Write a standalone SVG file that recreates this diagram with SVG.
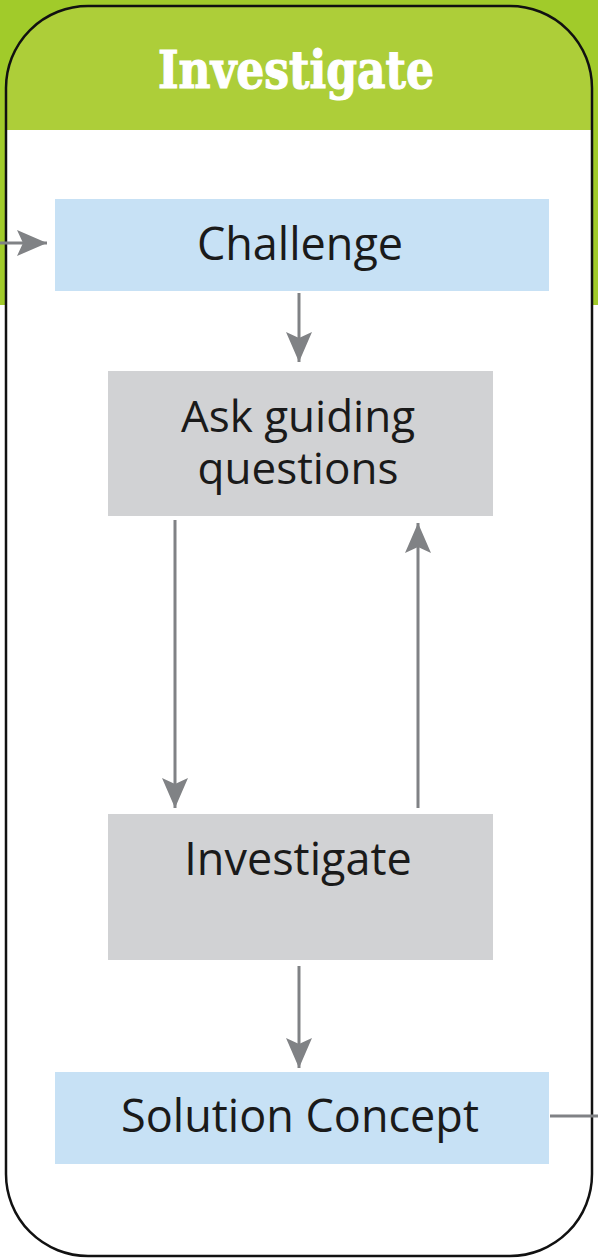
<svg xmlns="http://www.w3.org/2000/svg" width="598" height="1260" viewBox="0 0 598 1260">
<style>
.lbl{font-family:"Open Sans","Noto Sans","Liberation Sans",sans-serif;font-size:45px;font-weight:400;fill:#1a1a1a;text-anchor:middle}
.title{font-family:"DejaVu Serif","Liberation Serif",serif;font-weight:bold;font-size:52px;fill:#ffffff;stroke:#ffffff;stroke-width:1.2;text-anchor:middle}
.blue{fill:#c7e1f5}
.gray{fill:#d1d2d4}
.conn{stroke:#808285;stroke-width:3;fill:none}
</style>
<defs>
<marker id="ah" viewBox="0 0 30 26" refX="30" refY="13" markerWidth="30" markerHeight="26" markerUnits="userSpaceOnUse" orient="auto">
<path d="M0,0 L30,13 L0,26 L6,13 Z" fill="#808285"/>
</marker>
<clipPath id="frame"><rect x="6" y="6" width="586" height="1250" rx="82" ry="82"/></clipPath>
</defs>
<rect x="0" y="0" width="598" height="1260" fill="#ffffff"/>
<rect x="0" y="0" width="598" height="305" fill="#a1cb2a"/>
<g id="frame-group">
<rect x="6" y="6" width="586" height="1250" rx="82" ry="82" fill="#ffffff"/>
<rect x="0" y="0" width="598" height="130" fill="#adce39" clip-path="url(#frame)"/>
<rect x="6" y="6" width="586" height="1250" rx="82" ry="82" fill="none" stroke="#111111" stroke-width="2.5"/>
<text class="title" x="296" y="88" textLength="276" lengthAdjust="spacingAndGlyphs">Investigate</text>
</g>
<g id="connectors">
<line class="conn" x1="0" y1="243" x2="47" y2="243" marker-end="url(#ah)"/>
<line class="conn" x1="299" y1="293" x2="299" y2="362" marker-end="url(#ah)"/>
<line class="conn" x1="175" y1="520" x2="175" y2="808" marker-end="url(#ah)"/>
<line class="conn" x1="418" y1="808" x2="418" y2="523" marker-end="url(#ah)"/>
<line class="conn" x1="299" y1="966" x2="299" y2="1068" marker-end="url(#ah)"/>
<line class="conn" x1="550" y1="1116" x2="598" y2="1116"/>
</g>
<g id="challenge">
<rect class="blue" x="55" y="199" width="494" height="92"/>
<text class="lbl" x="300" y="260">Challenge</text>
</g>
<g id="ask">
<rect class="gray" x="108" y="371" width="385" height="145"/>
<text class="lbl" x="298" y="432" style="font-size:44px"><tspan x="298" y="432">Ask guiding</tspan><tspan x="298" y="484">questions</tspan></text>
</g>
<g id="investigate">
<rect class="gray" x="108" y="814" width="385" height="146"/>
<text class="lbl" x="298" y="875">Investigate</text>
</g>
<g id="solution">
<rect class="blue" x="55" y="1072" width="494" height="92"/>
<text class="lbl" x="300" y="1132">Solution Concept</text>
</g>
</svg>
